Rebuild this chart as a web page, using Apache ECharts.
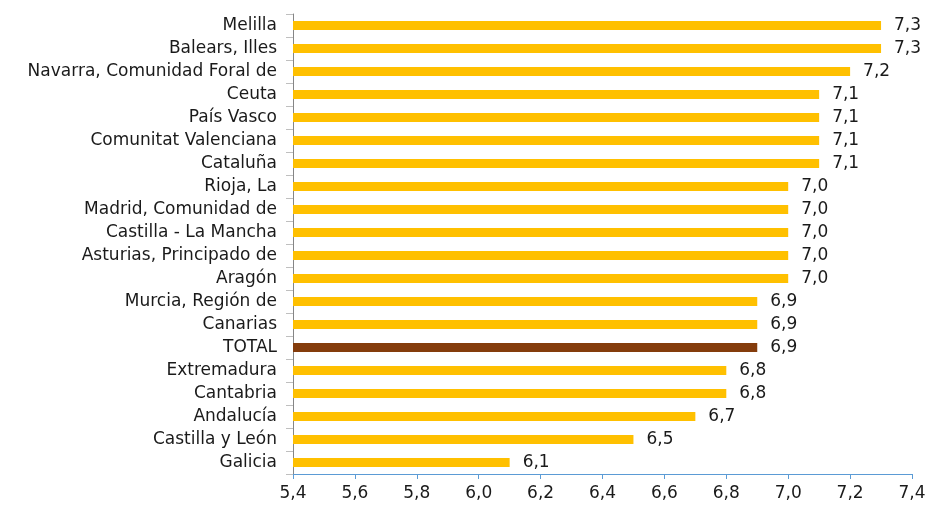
<!DOCTYPE html>
<html><head><meta charset="utf-8">
<script src="https://cdn.jsdelivr.net/npm/echarts@6/dist/echarts.min.js"></script>
<style>html,body{margin:0;padding:0;background:#fff}#c{width:929px;height:505px}</style>
</head><body><div id="c"></div>
<script>
const categories = ["Melilla","Balears, Illes","Navarra, Comunidad Foral de","Ceuta","País Vasco","Comunitat Valenciana","Cataluña","Rioja, La","Madrid, Comunidad de","Castilla - La Mancha","Asturias, Principado de","Aragón","Murcia, Región de","Canarias","TOTAL","Extremadura","Cantabria","Andalucía","Castilla y León","Galicia"];
const values = [7.3,7.3,7.2,7.1,7.1,7.1,7.1,7.0,7.0,7.0,7.0,7.0,6.9,6.9,6.9,6.8,6.8,6.7,6.5,6.1];
const highlight = "TOTAL";

const FONT = 'DejaVu Sans';
const chart = echarts.init(document.getElementById('c'), null, {renderer:'canvas'});
const fmt = v => v.toFixed(1).replace('.', ',');
chart.setOption({
  animation:false,
  grid:{left:293,right:17,top:14,bottom:31,containLabel:false},
  xAxis:{type:'value',min:5.4,max:7.4,interval:0.2,
    axisLine:{show:true,lineStyle:{color:'#5B9BD5',width:1}},
    axisTick:{show:true,length:5,lineStyle:{color:'#5B9BD5'}},
    splitLine:{show:false},
    axisLabel:{formatter:fmt,color:'#1a1a1a',fontFamily:FONT,fontSize:17,margin:11}},
  yAxis:{type:'category',data:categories,inverse:true,
    axisLine:{show:true,lineStyle:{color:'#868686',width:1}},
    axisTick:{show:true,length:7,lineStyle:{color:'#BFBFBF'}},
    axisLabel:{color:'#1a1a1a',fontFamily:FONT,fontSize:17,margin:16}},
  series:[{type:'bar',barWidth:9,
    data:values.map((v,i)=>({value:v,itemStyle:{color:categories[i]===highlight?'#843C0C':'#FFC000'}})),
    label:{show:true,position:'right',distance:13,formatter:p=>fmt(p.value),color:'#1a1a1a',fontFamily:FONT,fontSize:17}}]
});
</script></body></html>
